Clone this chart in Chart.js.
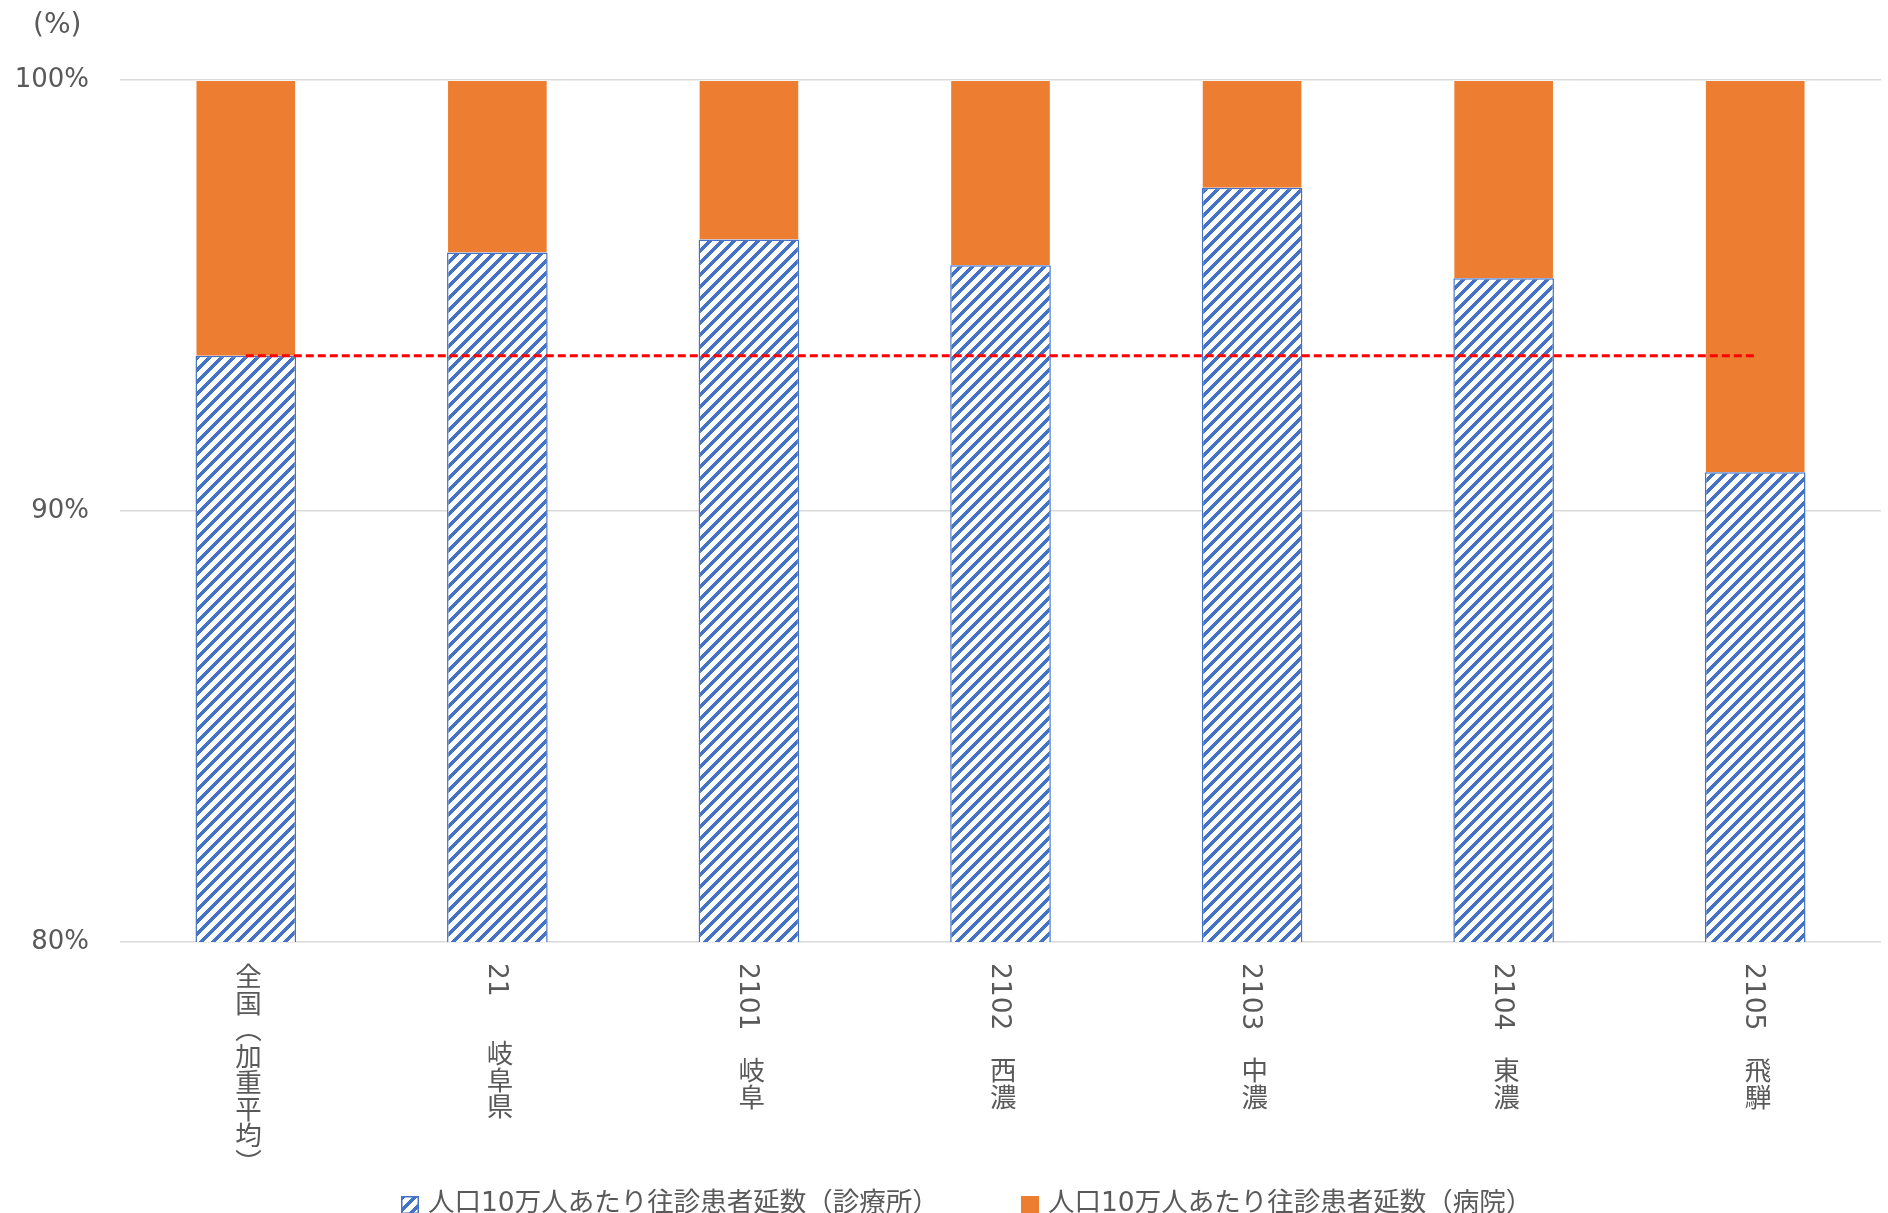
<!DOCTYPE html>
<html>
<head>
<meta charset="utf-8">
<script src="https://cdn.jsdelivr.net/npm/chart.js@4/dist/chart.umd.min.js"></script>
<style>
    body { margin: 0; background: #fff; }
    #wrap { position: relative; width: 1888px; height: 1213px; overflow: hidden;
            font-family: 'DejaVu Sans', 'Noto Sans CJK JP', sans-serif; color: #595959; }
    #unit { position: absolute; left: 33px; top: 7px; font-size: 28px; }
    .xlab { position: absolute; writing-mode: vertical-rl; text-orientation: mixed;
            font-size: 26.5px; line-height: 1; white-space: pre; transform: translateX(-50%); }
    .leg { position: absolute; top: 1186px; font-size: 26.5px; line-height: 32px; white-space: nowrap; }
    .leg canvas, .leg span.box { display: inline-block; vertical-align: -3px; margin-right: 9px; }
    .leg span.box { width: 18px; height: 18px; background: #ED7D31; }
</style>
</head>
<body>
<div id="wrap">
    <canvas id="BarChart1"></canvas>
    <div id="unit">(%)</div>
</div>
<script>
// categories
const areaNames = ['全国（加重平均）', '21　  岐阜県', '2101　岐阜', '2102　西濃', '2103　中濃', '2104　東濃', '2105　飛騨'];

// share of home-visit patients (%)
const clinicShare = [93.6, 96.0, 96.3, 95.7, 97.5, 95.4, 90.9];
const hospitalShare = [6.4, 4.0, 3.7, 4.3, 2.5, 4.6, 9.1];
// national weighted average, drawn across all areas
const nationalLine = [93.6, 93.6, 93.6, 93.6, 93.6, 93.6, 93.6];

const yTicks = [80, 90, 100];

const legendNames = ['人口10万人あたり往診患者延数（診療所）', '人口10万人あたり往診患者延数（病院）'];

const blue = '#4472C4';
const orange = '#ED7D31';

// "/" hatch like excel's wide upward diagonal
function makeHatch(ctx, color) {
    const c = document.createElement('canvas');
    c.width = 12;
    c.height = 12;
    const g = c.getContext('2d');
    g.fillStyle = '#fff';
    g.fillRect(0, 0, 12, 12);
    g.fillStyle = color;
    for (let y = 0; y < 12; y++) {
        for (let x = 0; x < 12; x++) {
            if ((x + y) % 12 < 5) g.fillRect(x, y, 1, 1);
        }
    }
    return ctx.createPattern(c, 'repeat');
}

const ctx1 = document.getElementById('BarChart1');
const hatch = makeHatch(ctx1.getContext('2d'), blue);

Chart.defaults.font.family = "'DejaVu Sans', 'Noto Sans CJK JP', sans-serif";
Chart.defaults.color = '#595959';

// put the vertical category labels under the plot
const htmlLabels = {
    id: 'htmlLabels',
    afterDraw(chart) {
        const wrap = document.getElementById('wrap');
        wrap.querySelectorAll('.xlab').forEach(el => el.remove());
        const xs = chart.scales.x;
        areaNames.forEach((name, i) => {
            const el = document.createElement('div');
            el.className = 'xlab';
            el.textContent = name;
            el.style.left = xs.getPixelForValue(i) + 'px';
            el.style.top = (chart.chartArea.bottom + 21) + 'px';
            wrap.appendChild(el);
        });
    }
};

const BarChart1 = new Chart(ctx1, {
    type: 'bar',
    data: {
        labels: areaNames,
        datasets: [
            {
                type: 'line',
                label: 'national',
                data: nationalLine,
                borderColor: '#FF0000',
                borderWidth: 3,
                borderDash: [8, 4],
                pointRadius: 0,
                fill: false,
                stack: 'avg',
                order: 0
            },
            {
                label: legendNames[0],
                data: clinicShare,
                backgroundColor: hatch,
                borderColor: blue,
                borderWidth: 1.5,
                borderSkipped: false,
                stack: 's',
                order: 1
            },
            {
                label: legendNames[1],
                data: hospitalShare,
                backgroundColor: orange,
                borderColor: 'rgba(255,255,255,0.45)',
                borderWidth: 1,
                borderSkipped: 'bottom',
                stack: 's',
                order: 1
            }
        ]
    },
    options: {
        responsive: true,
        maintainAspectRatio: false,
        animation: false,
        layout: {
            padding: {top: 80, left: 15, right: 7, bottom: 263}
        },
        datasets: {
            bar: {categoryPercentage: 1, barPercentage: 0.4}
        },
        scales: {
            x: {
                stacked: true,
                grid: {display: false},
                border: {display: false},
                ticks: {display: false}
            },
            y: {
                stacked: true,
                min: 80,
                max: 100,
                afterBuildTicks: axis => {
                    axis.ticks = yTicks.map(v => ({value: v}));
                },
                afterFit: axis => {
                    axis.width = 105;
                },
                grid: {color: '#D9D9D9', lineWidth: 1.5, drawTicks: false},
                border: {display: false},
                ticks: {
                    padding: 31,
                    font: {size: 26},
                    callback: v => v + '%'
                }
            }
        },
        plugins: {
            legend: {display: false},
            tooltip: {enabled: false}
        }
    },
    plugins: [htmlLabels]
});

// legend
const legendLeft = [401, 1021];
legendNames.forEach((name, i) => {
    const item = document.createElement('div');
    item.className = 'leg';
    item.style.left = legendLeft[i] + 'px';
    if (i === 0) {
        const box = document.createElement('canvas');
        box.width = 18;
        box.height = 18;
        const b = box.getContext('2d');
        b.fillStyle = makeHatch(b, blue);
        b.fillRect(0, 0, 18, 18);
        b.strokeStyle = blue;
        b.lineWidth = 1.5;
        b.strokeRect(0.75, 0.75, 16.5, 16.5);
        item.appendChild(box);
    } else {
        const box = document.createElement('span');
        box.className = 'box';
        item.appendChild(box);
    }
    item.appendChild(document.createTextNode(name));
    document.getElementById('wrap').appendChild(item);
});
</script>
</body>
</html>
